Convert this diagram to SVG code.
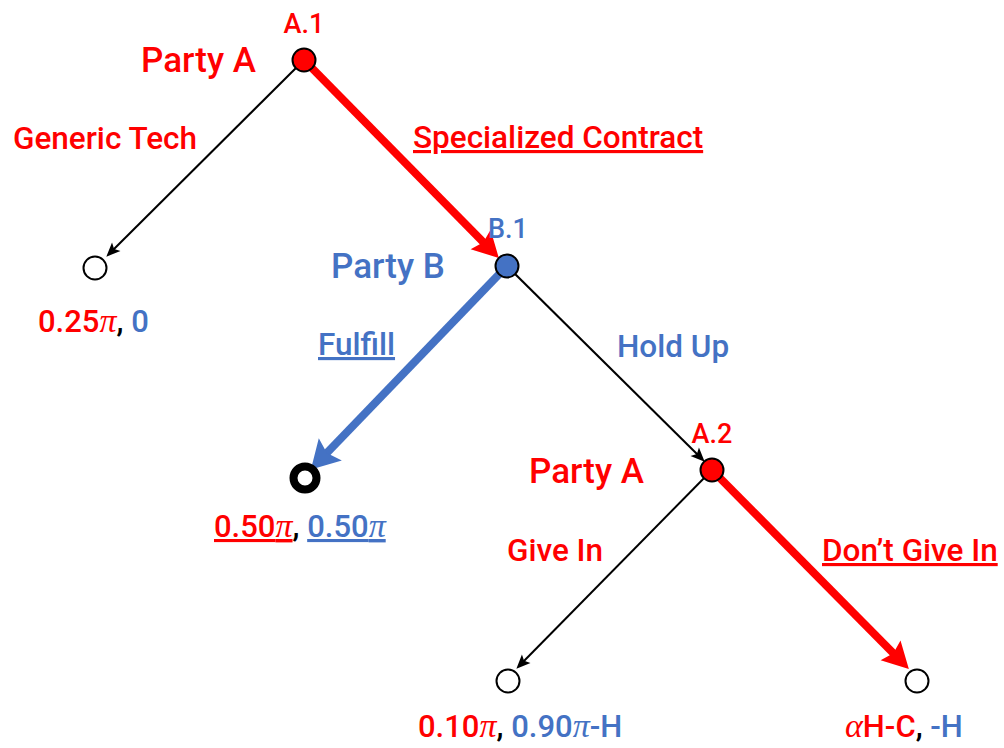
<svg xmlns="http://www.w3.org/2000/svg" width="1004" height="748" viewBox="0 0 1004 748">
  <style>
    text { font-family: Roboto, Lato, "Open Sans", sans-serif; font-weight: 500; }
    .red { fill: #FF0000; }
    .blue { fill: #4472C4; }
    .blk { fill: #000000; }
    .player { font-size: 35px; }
    .tag { font-size: 27px; }
    .move { font-size: 31.5px; }
    .pay { font-size: 31px; }
    .pi { font-family: "Liberation Serif", "DejaVu Serif", serif; font-style: italic; font-weight: normal; font-size: 34px; }
    .ul { text-decoration: underline; }
    .thin { stroke: #000; stroke-width: 2; fill: none; }
    .thickred { stroke: #FF0000; stroke-width: 8; fill: none; }
    .thickblue { stroke: #4472C4; stroke-width: 8; fill: none; }
    .decA { fill: #FF0000; stroke: #000; stroke-width: 2; }
    .decB { fill: #4472C4; stroke: #000; stroke-width: 2; }
    .leaf { fill: #fff; stroke: #000; stroke-width: 2; }
    .leafeq { fill: #fff; stroke: #000; stroke-width: 8; }
  </style>
  <defs>
    <marker id="headThin" markerUnits="userSpaceOnUse" markerWidth="20" markerHeight="20" refX="6" refY="10" orient="auto" overflow="visible">
      <path d="M0,4 L14,10 L0,16 L3,10 Z" fill="#000"/>
    </marker>
    <marker id="headRed" markerUnits="userSpaceOnUse" markerWidth="40" markerHeight="40" refX="12" refY="20" orient="auto" overflow="visible">
      <path d="M0,6 L26,20 L0,34 L4,20 Z" fill="#FF0000"/>
    </marker>
    <marker id="headBlue" markerUnits="userSpaceOnUse" markerWidth="40" markerHeight="40" refX="12" refY="20" orient="auto" overflow="visible">
      <path d="M0,4 L28,20 L0,36 L5,20 Z" fill="#4472C4"/>
    </marker>
  </defs>

  <!-- branches -->
  <g id="connectors">
    <!-- A.1 -> Generic Tech leaf -->
    <line class="thin" x1="304" y1="60" x2="112" y2="251" marker-end="url(#headThin)"/>
    <!-- A.1 -> B.1 (equilibrium path) -->
    <line class="thickred" x1="304" y1="60" x2="489" y2="248" marker-end="url(#headRed)"/>
    <!-- B.1 -> Fulfill leaf (equilibrium path) -->
    <line class="thickblue" x1="507" y1="266" x2="322" y2="458" marker-end="url(#headBlue)"/>
    <!-- B.1 -> A.2 -->
    <line class="thin" x1="507" y1="266" x2="699" y2="456" marker-end="url(#headThin)"/>
    <!-- A.2 -> Give In leaf -->
    <line class="thin" x1="712" y1="470" x2="522" y2="663" marker-end="url(#headThin)"/>
    <!-- A.2 -> Don't Give In leaf (equilibrium path) -->
    <line class="thickred" x1="712" y1="470" x2="899" y2="659" marker-end="url(#headRed)"/>
  </g>

  <!-- decision node A.1 -->
  <g id="nodeA1">
    <circle class="decA" cx="304" cy="60" r="11.5"/>
    <text class="tag red" x="304" y="33" text-anchor="middle">A.1</text>
    <text class="player red" x="141" y="72">Party A</text>
  </g>

  <!-- decision node B.1 -->
  <g id="nodeB1">
    <circle class="decB" cx="507" cy="266" r="11.5"/>
    <text class="tag blue" x="508" y="238" text-anchor="middle">B.1</text>
    <text class="player blue" x="331" y="278">Party B</text>
  </g>

  <!-- decision node A.2 -->
  <g id="nodeA2">
    <circle class="decA" cx="712" cy="470" r="11.5"/>
    <text class="tag red" x="712" y="443" text-anchor="middle">A.2</text>
    <text class="player red" x="529" y="483">Party A</text>
  </g>

  <!-- move labels -->
  <g id="labelGeneric">
    <text class="move red" x="13" y="149">Generic Tech</text>
  </g>
  <g id="labelSpecialized">
    <text class="move red ul" x="413" y="148">Specialized Contract</text>
  </g>
  <g id="labelFulfill">
    <text class="move blue ul" x="318" y="355">Fulfill</text>
  </g>
  <g id="labelHoldUp">
    <text class="move blue" x="617" y="357">Hold Up</text>
  </g>
  <g id="labelGiveIn">
    <text class="move red" x="507" y="561">Give In</text>
  </g>
  <g id="labelDontGiveIn">
    <text class="move red ul" x="822" y="561">Don’t Give In</text>
  </g>

  <!-- terminal nodes with payoffs -->
  <g id="leafGeneric">
    <circle class="leaf" cx="95" cy="268" r="11.5"/>
    <text class="pay" x="38" y="332"><tspan class="red">0.25</tspan><tspan class="red pi">π</tspan><tspan class="blk">, </tspan><tspan class="blue">0</tspan></text>
  </g>
  <g id="leafFulfill">
    <circle class="leafeq" cx="305" cy="478" r="11.5"/>
    <text class="pay" x="214" y="537"><tspan class="red ul">0.50<tspan class="pi">π</tspan></tspan><tspan class="blk">, </tspan><tspan class="blue ul">0.50<tspan class="pi">π</tspan></tspan></text>
  </g>
  <g id="leafGiveIn">
    <circle class="leaf" cx="508" cy="681" r="11.5"/>
    <text class="pay" x="418" y="737"><tspan class="red">0.10</tspan><tspan class="red pi">π</tspan><tspan class="blk">, </tspan><tspan class="blue">0.90</tspan><tspan class="blue pi">π</tspan><tspan class="blue">-H</tspan></text>
  </g>
  <g id="leafDontGiveIn">
    <circle class="leaf" cx="917" cy="681" r="11.5"/>
    <text class="pay" x="845" y="737"><tspan class="red pi">α</tspan><tspan class="red">H-C</tspan><tspan class="blk">, </tspan><tspan class="blue">-H</tspan></text>
  </g>
</svg>
